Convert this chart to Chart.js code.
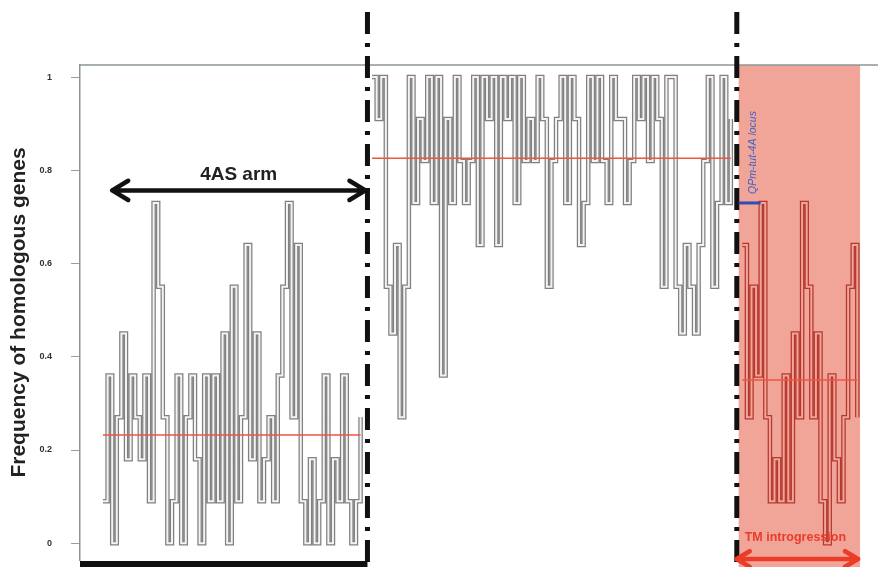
<!DOCTYPE html>
<html>
<head>
<meta charset="utf-8">
<script src="https://cdn.jsdelivr.net/npm/chart.js@4"></script>
<style>
  html, body { margin: 0; padding: 0; background: #fff; }
  #wrap { width: 878px; height: 567px; }
</style>
</head>
<body>
<div id="wrap"><canvas id="chart"></canvas></div>
<script>
// frequency of homologous genes in a sliding window, one value per gene
const arm4AS = [0.09, 0.36, 0, 0.27, 0.45, 0.18, 0.36, 0.27, 0.18, 0.36, 0.09, 0.73, 0.55, 0.27, 0, 0.09,
  0.36, 0, 0.27, 0.36, 0.18, 0, 0.36, 0.09, 0.36, 0.09, 0.45, 0, 0.55, 0.09, 0.27, 0.64, 0.18, 0.45, 0.09,
  0.18, 0.27, 0.09, 0.36, 0.55, 0.73, 0.27, 0.64, 0.09, 0, 0.18, 0, 0.09, 0.36, 0, 0.18, 0.09, 0.36, 0.09,
  0, 0.09, 0.27];
const arm4AL = [1, 0.91, 1, 0.55, 0.45, 0.64, 0.27, 0.55, 1, 0.73, 0.91, 0.82, 1, 0.73, 1, 0.36, 0.91, 0.73,
  1, 0.82, 0.73, 0.82, 1, 0.64, 1, 0.91, 1, 0.64, 1, 0.91, 1, 0.73, 1, 0.82, 0.91, 0.82, 1, 0.91, 0.55,
  0.82, 0.91, 1, 0.73, 1, 0.91, 0.64, 0.73, 1, 0.82, 1, 0.82, 0.73, 1, 0.91, 0.91, 0.73, 0.82, 1, 0.91, 1,
  0.82, 1, 0.91, 0.55, 1, 1, 0.55, 0.45, 0.64, 0.55, 0.45, 0.64, 0.82, 1, 0.55, 0.73, 1, 0.73, 0.91];
const tmRegion = [0.64, 0.27, 0.55, 0.36, 0.73, 0.27, 0.09, 0.18, 0.09, 0.36, 0.09, 0.45, 0.27, 0.73, 0.55,
  0.27, 0.45, 0.09, 0, 0.36, 0.18, 0.09, 0.27, 0.55, 0.64, 0.27];
const segmentMeans = [0.232, 0.826, 0.35];
const yTicks = [0, 0.2, 0.4, 0.6, 0.8, 1];

// gene index where each segment starts, and the borders between them
const segStart = [0, 58.5, 139];
const borders = [57.5, 137.8];
const tmSpan = [138.2, 164.6];

const shade = 'rgb(241,165,153)';

function pts(values, start) {
  return values.map((v, i) => ({ x: start + i, y: v }));
}
function meanLine(values, start, m) {
  return [{ x: start, y: m }, { x: start + values.length - 1, y: m }];
}
function tube(values, start, outer, inner) {
  const base = { stepped: true, pointRadius: 0, borderJoinStyle: 'miter', borderCapStyle: 'butt', fill: false };
  return [
    Object.assign({ data: pts(values, start), borderColor: outer, borderWidth: 4.5, order: 3 }, base),
    Object.assign({ data: pts(values, start), borderColor: inner, borderWidth: 2, order: 2 }, base)
  ];
}

const segments = [arm4AS, arm4AL, tmRegion];
const datasets = [];
segments.forEach((vals, k) => {
  const red = k === 2;
  datasets.push(...tube(vals, segStart[k], red ? 'rgb(180,55,45)' : 'rgb(128,128,128)', red ? shade : '#f3f3f3'));
});
segments.forEach((vals, k) => {
  datasets.push({ data: meanLine(vals, segStart[k], segmentMeans[k]), borderColor: 'rgb(240,85,65)',
    borderWidth: 1.5, pointRadius: 0, order: 1 });
});

function arrow(ctx, x0, x1, y, color, w, head) {
  ctx.save();
  ctx.strokeStyle = color;
  ctx.lineWidth = w;
  ctx.lineCap = 'round';
  ctx.lineJoin = 'round';
  ctx.beginPath();
  ctx.moveTo(x0, y); ctx.lineTo(x1, y);
  ctx.moveTo(x0 + head, y - head * 0.6); ctx.lineTo(x0, y); ctx.lineTo(x0 + head, y + head * 0.6);
  ctx.moveTo(x1 - head, y - head * 0.6); ctx.lineTo(x1, y); ctx.lineTo(x1 - head, y + head * 0.6);
  ctx.stroke();
  ctx.restore();
}

const overlay = {
  id: 'overlay',
  beforeDatasetsDraw(chart) {
    const { ctx, chartArea, scales: { x } } = chart;
    const a = x.getPixelForValue(tmSpan[0]), b = x.getPixelForValue(tmSpan[1]);
    ctx.save();
    ctx.fillStyle = shade;
    ctx.fillRect(a, chartArea.top, b - a, chart.height - chartArea.top);
    ctx.restore();
  },
  afterDatasetsDraw(chart) {
    const { ctx, chartArea, scales: { x, y } } = chart;
    ctx.save();
    // frame top
    ctx.strokeStyle = 'rgb(140,150,150)';
    ctx.lineWidth = 1.5;
    ctx.beginPath();
    ctx.moveTo(chartArea.left, chartArea.top);
    ctx.lineTo(chartArea.right, chartArea.top);
    ctx.stroke();

    // chromosome bar under the short arm
    ctx.fillStyle = '#111';
    ctx.fillRect(chartArea.left, chart.height - 6, x.getPixelForValue(borders[0]) - chartArea.left, 6);

    // centromere / introgression borders
    ctx.strokeStyle = '#111';
    ctx.lineWidth = 5;
    ctx.setLineDash([22, 9, 4, 9]);
    borders.forEach(b => {
      const px = x.getPixelForValue(b);
      ctx.beginPath();
      ctx.moveTo(px, 12);
      ctx.lineTo(px, chart.height);
      ctx.stroke();
    });
    ctx.setLineDash([]);

    // 4AS arm
    arrow(ctx, x.getPixelForValue(2), x.getPixelForValue(borders[0]) - 2, y.getPixelForValue(0.757), '#111', 4.5, 16);
    ctx.fillStyle = '#222';
    ctx.font = 'bold 19px "Liberation Sans", Arial, sans-serif';
    ctx.textAlign = 'center';
    ctx.textBaseline = 'middle';
    ctx.fillText('4AS arm', x.getPixelForValue(29.5), y.getPixelForValue(0.79));

    // TM introgression
    const t0 = x.getPixelForValue(tmSpan[0]), t1 = x.getPixelForValue(tmSpan[1]);
    ctx.fillStyle = 'rgb(235,60,40)';
    ctx.font = 'bold 12.5px "Liberation Sans", Arial, sans-serif';
    ctx.fillText('TM introgression', (t0 + t1) / 2 - 4, 538);
    arrow(ctx, t0 - 2, t1 - 2, 559, 'rgb(235,60,40)', 4.5, 13);

    // QPm-tut-4A locus
    const ly = y.getPixelForValue(0.73);
    ctx.strokeStyle = 'rgb(50,75,185)';
    ctx.lineWidth = 3;
    ctx.beginPath();
    ctx.moveTo(t0, ly); ctx.lineTo(t0 + 22, ly);
    ctx.stroke();
    ctx.translate(t0 + 14, ly - 9);
    ctx.rotate(-Math.PI / 2);
    ctx.fillStyle = 'rgb(60,95,200)';
    ctx.font = 'italic 10.5px "Liberation Sans", Arial, sans-serif';
    ctx.textAlign = 'left';
    ctx.fillText('QPm-tut-4A locus', 0, 0);
    ctx.restore();
  }
};

new Chart(document.getElementById('chart'), {
  type: 'line',
  data: { datasets },
  options: {
    responsive: true,
    maintainAspectRatio: false,
    animation: false,
    layout: { padding: { top: 65, right: 0, bottom: 7, left: 0 } },
    plugins: { legend: { display: false }, tooltip: { enabled: false } },
    scales: {
      x: { type: 'linear', min: -5, max: 168.5, display: false },
      y: {
        min: -0.036, max: 1.026,
        afterBuildTicks: s => { s.ticks = yTicks.map(v => ({ value: v })); },
        afterFit: s => { s.width = 80; s.paddingTop = 0; s.paddingBottom = 0; },
        ticks: {
          padding: 19,
          color: '#333',
          font: { family: '"Liberation Sans", Arial, sans-serif', size: 9, weight: 'bold' },
          callback: v => String(v)
        },
        grid: { drawOnChartArea: false, tickLength: 9, color: 'rgb(150,160,160)' },
        border: { color: 'rgb(140,150,150)', width: 1.5 },
        title: {
          display: true,
          text: 'Frequency of homologous genes',
          color: '#222',
          padding: { top: 7, bottom: 0 },
          font: { family: '"Liberation Sans", Arial, sans-serif', size: 21, weight: 'bold' }
        }
      }
    }
  },
  plugins: [overlay]
});
</script>
</body>
</html>
